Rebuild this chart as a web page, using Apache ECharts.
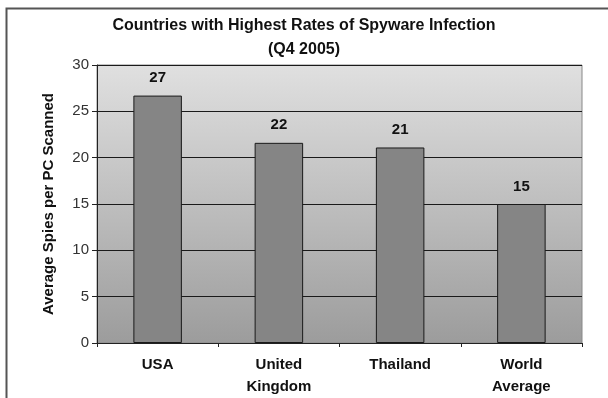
<!DOCTYPE html>
<html>
<head>
<meta charset="utf-8">
<script src="https://cdn.jsdelivr.net/npm/echarts@6/dist/echarts.min.js"></script>
<style>
  html, body { margin: 0; padding: 0; background: #fff; }
  #main { width: 608px; height: 398px; }
</style>
</head>
<body>
<div id="main"></div>
<script>
// 数据
var categories = ['USA', 'United\nKingdom', 'Thailand', 'World\nAverage'];
var spyValues = [26.7, 21.6, 21.1, 15.0];
var shownLabels = ['27', '22', '21', '15'];
var yTicks = [0, 5, 10, 15, 20, 25, 30];

var font = 'Liberation Sans, Arial, sans-serif';

var chart = echarts.init(document.getElementById('main'));
var option = {
    animation: false,
    backgroundColor: '#fff',
    title: {
        text: 'Countries with Highest Rates of Spyware Infection\n(Q4 2005)',
        left: 'center',
        top: 9,
        textStyle: {
            fontFamily: font,
            fontWeight: 'bold',
            fontSize: 16,
            lineHeight: 24,
            color: '#111'
        }
    },
    graphic: [{
        type: 'rect',
        shape: { x: 6.5, y: 8.5, width: 800, height: 600 },
        style: { fill: 'none', stroke: '#555', lineWidth: 2 },
        silent: true
    }],
    grid: {
        left: 97,
        right: 26,
        top: 65,
        bottom: 55,
        show: true,
        borderColor: '#888',
        borderWidth: 1,
        backgroundColor: new echarts.graphic.LinearGradient(0, 0, 0, 1, [
            { offset: 0, color: '#e0e0e0' },
            { offset: 1, color: '#9c9c9c' }
        ])
    },
    xAxis: {
        type: 'category',
        data: categories,
        axisLine: { lineStyle: { color: '#222', width: 1 } },
        axisTick: { show: true, length: 4, lineStyle: { color: '#222' } },
        axisLabel: {
            fontFamily: font,
            fontWeight: 'bold',
            fontSize: 15,
            lineHeight: 22,
            color: '#111',
            margin: 11
        }
    },
    yAxis: {
        type: 'value',
        min: yTicks[0],
        max: yTicks[yTicks.length - 1],
        interval: 5,
        name: 'Average Spies per PC Scanned',
        nameLocation: 'middle',
        nameGap: 41,
        nameTextStyle: {
            fontFamily: font,
            fontWeight: 'bold',
            fontSize: 15,
            color: '#111'
        },
        axisLine: { show: true, lineStyle: { color: '#222' } },
        axisTick: { show: true, length: 5, lineStyle: { color: '#222' } },
        axisLabel: {
            fontFamily: font,
            fontSize: 15,
            color: '#333',
            margin: 8
        },
        splitLine: { show: true, lineStyle: { color: '#1a1a1a', width: 1 } }
    },
    series: [{
        type: 'bar',
        data: spyValues,
        barWidth: '40%',
        itemStyle: {
            color: '#858585',
            borderColor: '#1a1a1a',
            borderWidth: 1
        },
        label: {
            show: true,
            position: 'top',
            distance: 10,
            fontFamily: font,
            fontWeight: 'bold',
            fontSize: 15,
            color: '#111',
            formatter: function (p) { return shownLabels[p.dataIndex]; }
        }
    }]
};
chart.setOption(option);
</script>
</body>
</html>
